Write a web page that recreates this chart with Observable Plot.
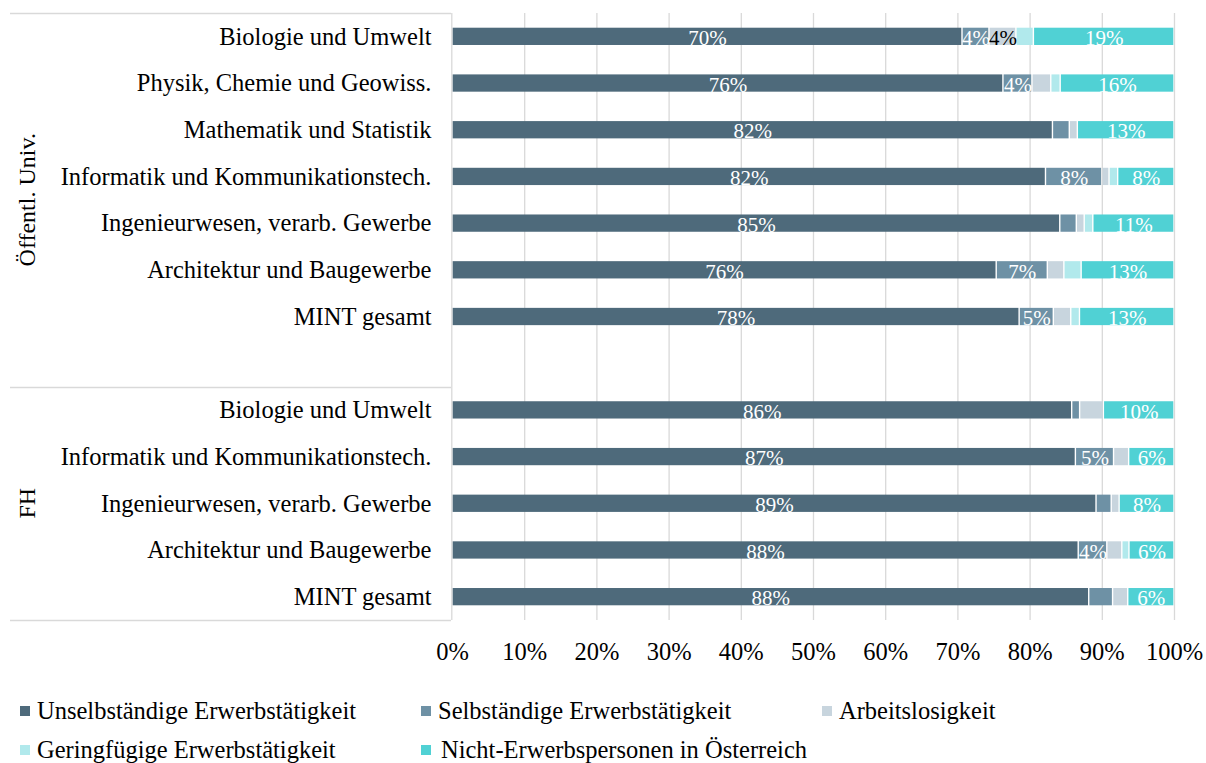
<!DOCTYPE html>
<html>
<head>
<meta charset="utf-8">
<script src="https://cdn.jsdelivr.net/npm/d3@7"></script>
<script src="https://cdn.jsdelivr.net/npm/@observablehq/plot@0.6"></script>
<style>
  body { margin: 0; background: #fff; font-family: "Liberation Serif", serif; }
  #chart { width: 1206px; }
  .legend { position: relative; width: 1206px; height: 83px; }
  .item { position: absolute; font-size: 24.5px; line-height: 24px; color: #000; white-space: nowrap; }
  .sw { position: absolute; left: 0; top: 7px; width: 10px; height: 10px; }
  .lab { position: absolute; left: 17px; top: 0; }
</style>
</head>
<body>
<div id="chart"></div>
<script>
// ---- data ----
const groupNames = ["Öffentl. Univ.", "FH"];
const categoriesOeff = [
  "Biologie und Umwelt",
  "Physik, Chemie und Geowiss.",
  "Mathematik und Statistik",
  "Informatik und Kommunikationstech.",
  "Ingenieurwesen, verarb. Gewerbe",
  "Architektur und Baugewerbe",
  "MINT gesamt"
];
const categoriesFH = [
  "Biologie und Umwelt",
  "Informatik und Kommunikationstech.",
  "Ingenieurwesen, verarb. Gewerbe",
  "Architektur und Baugewerbe",
  "MINT gesamt"
];
const seriesNames = [
  "Unselbständige Erwerbstätigkeit",
  "Selbständige Erwerbstätigkeit",
  "Arbeitslosigkeit",
  "Geringfügige Erwerbstätigkeit",
  "Nicht-Erwerbspersonen in Österreich"
];
const seriesColors = ["#4e6a7b", "#6e91a5", "#c8d5de", "#b1e9ec", "#50d1d4"];
// values in row order: Öffentl. Univ. (7 rows) then FH (5 rows)
const unselbstaendig = [70, 76, 82, 82.2, 84.6, 75.6, 78, 86, 86.6, 89.2, 87.6, 88.1];
const selbstaendig   = [3.7, 4.0, 2.3, 7.8, 2.3, 7.1, 4.7, 1.1, 5.3, 2.1, 4.0, 3.3];
const arbeitslos     = [3.7, 2.6, 1.1, 1.0, 1.1, 2.3, 2.4, 3.3, 2.1, 1.1, 2.1, 2.1];
const geringfuegig   = [2.4, 1.3, 0, 1.2, 1.2, 2.4, 1.2, 0, 0, 0, 1.0, 0];
const nichtErwerb    = [19.3, 15.7, 13.2, 7.8, 11.3, 12.9, 13.0, 9.8, 6.3, 7.6, 6.3, 6.4];
const xTicks = [0, 0.1, 0.2, 0.3, 0.4, 0.5, 0.6, 0.7, 0.8, 0.9, 1];

// ---- build table ----
const seriesValues = [unselbstaendig, selbstaendig, arbeitslos, geringfuegig, nichtErwerb];
const rows = [
  ...categoriesOeff.map(c => ({group: groupNames[0], cat: c})),
  ...categoriesFH.map(c => ({group: groupNames[1], cat: c}))
];
rows.forEach(r => r.key = r.group + "|" + r.cat);
const gapKey = "__gap__";
const keys = [
  ...rows.filter(r => r.group === groupNames[0]).map(r => r.key),
  gapKey,
  ...rows.filter(r => r.group === groupNames[1]).map(r => r.key)
];
const labelOf = new Map(rows.map(r => [r.key, r.cat]));
labelOf.set(gapKey, "");

const data = [];
rows.forEach((r, i) => {
  seriesNames.forEach((s, j) => {
    data.push({key: r.key, series: s, value: seriesValues[j][i]});
  });
});

const pct = v => Math.round(v) + "%";
const stackOpts = {x: "value", y: "key", z: "series", offset: "normalize"};

function groupFrame(index, scales, values, dimensions) {
  const y = scales.y;
  const bw = typeof y.bandwidth === "function" ? y.bandwidth() : y.bandwidth;
  const step = y(keys[1]) - y(keys[0]);
  const pad = (step - bw) / 2;
  const top = y(keys[0]) - pad;
  const mid = y(gapKey) + bw + pad;
  const bottom = y(keys[keys.length - 1]) + bw + pad;
  const g = d3.create("svg:g");
  const x0 = dimensions.marginLeft - 442;
  const x1 = dimensions.marginLeft - 1;
  [top, mid, bottom].forEach(v => {
    g.append("line")
      .attr("x1", x0).attr("x2", x1)
      .attr("y1", Math.round(v) + 0.5).attr("y2", Math.round(v) + 0.5)
      .attr("stroke", "#d9d9d9").attr("stroke-width", 1.3);
  });
  const labs = [
    {t: groupNames[0], cy: (top + mid) / 2},
    {t: groupNames[1], cy: (mid + bottom) / 2}
  ];
  labs.forEach(l => {
    g.append("text")
      .attr("transform", `translate(${dimensions.marginLeft - 417},${l.cy}) rotate(-90)`)
      .attr("text-anchor", "middle")
      .attr("font-size", 24)
      .attr("fill", "#000")
      .text(l.t);
  });
  return g.node();
}

const plot = Plot.plot({
  width: 1206,
  height: 680,
  marginTop: 13,
  marginBottom: 60,
  marginLeft: 452,
  marginRight: 32,
  style: {fontFamily: '"Liberation Serif", serif', background: "#fff", color: "#000"},
  x: {domain: [0, 1], label: null},
  y: {domain: keys, paddingInner: 0.63, paddingOuter: 0.315, round: false, label: null},
  color: {domain: seriesNames, range: seriesColors},
  marks: [
    Plot.ruleX(xTicks.slice(1), {stroke: "#d9d9d9", strokeWidth: 1.3}),
    Plot.ruleX([0], {stroke: "#d9d9d9", strokeWidth: 1.3, dx: -0.7}),
    Plot.barX(data, Plot.stackX({...stackOpts, fill: "series", insetLeft: 0.7, insetRight: 0.7})),
    Plot.text(data, Plot.stackX({...stackOpts,
      text: d => (d.series !== seriesNames[2] && d.value >= 3.5) ? pct(d.value) : "",
      fill: "white", fontSize: 21, dy: 1.5})),
    Plot.text(data, Plot.stackX({...stackOpts,
      text: d => (d.series === seriesNames[2] && d.value >= 3.5) ? pct(d.value) : "",
      fill: "black", fontSize: 21, dy: 1.5})),
    Plot.axisX({ticks: xTicks, tickFormat: d3.format(".0%"), tickSize: 0, tickPadding: 22, fontSize: 24.5, label: null}),
    Plot.axisY({tickSize: 0, tickPadding: 21, fontSize: 24.5, tickFormat: k => labelOf.get(k), label: null}),
    groupFrame
  ]
});

document.getElementById("chart").appendChild(plot);

// ---- legend ----
const legend = document.createElement("div");
legend.className = "legend";
const legendPos = [[20, 19], [421, 19], [822, 19], [20, 58], [421, 58]];
seriesNames.forEach((s, i) => {
  const it = document.createElement("div");
  it.className = "item";
  it.style.left = legendPos[i][0] + "px";
  it.style.top = legendPos[i][1] + "px";
  const sw = document.createElement("span");
  sw.className = "sw";
  sw.style.background = seriesColors[i];
  const lab = document.createElement("span");
  lab.className = "lab";
  if (i === 4) lab.style.left = "20px";
  lab.textContent = s;
  it.appendChild(sw);
  it.appendChild(lab);
  legend.appendChild(it);
});
document.getElementById("chart").appendChild(legend);
</script>
</body>
</html>
